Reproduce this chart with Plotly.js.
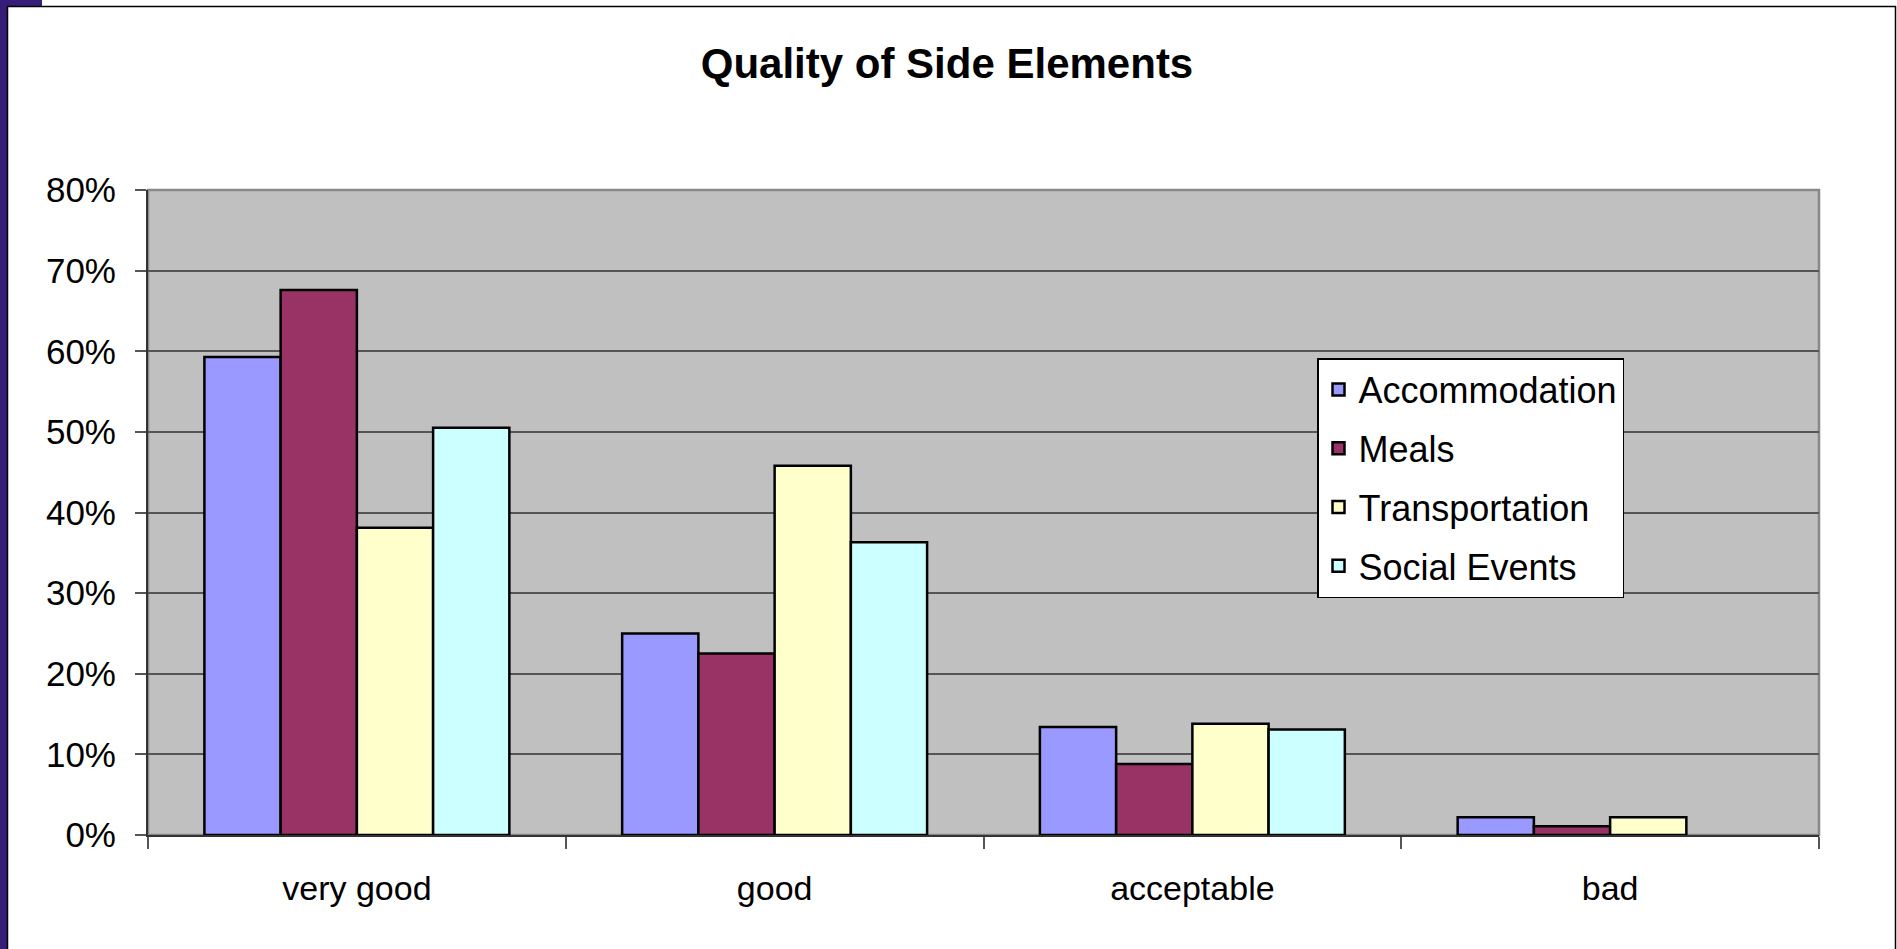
<!DOCTYPE html>
<html>
<head>
<meta charset="utf-8">
<script src="https://cdn.plot.ly/plotly-3.0.1.min.js"></script>
<style>
  html, body { margin: 0; padding: 0; background: #ffffff; }
  #chart { width: 1897px; height: 949px; }
</style>
</head>
<body>
<div id="chart"></div>
<script>
// ---- data ----
const categories = ['very good', 'good', 'acceptable', 'bad'];
const seriesNames = ['Accommodation', 'Meals', 'Transportation', 'Social Events'];
const accommodation = [0.593, 0.250, 0.134, 0.022];
const meals = [0.676, 0.225, 0.088, 0.011];
const transportation = [0.381, 0.458, 0.138, 0.022];
const socialEvents = [0.505, 0.363, 0.131, 0.0];
const yTickValues = [0, 0.1, 0.2, 0.3, 0.4, 0.5, 0.6, 0.7, 0.8];
const seriesColors = ['#9999FF', '#993366', '#FFFFCC', '#CCFFFF'];

// ---- layout geometry (pixels) ----
const W = 1897, H = 949;
const M = { l: 148, r: W - 1819, t: 190, b: H - 835 };
const PW = W - M.l - M.r, PH = H - M.t - M.b;
const px = x => (x - M.l) / PW;          // pixel x -> paper x
const py = y => (H - M.b - y) / PH;      // pixel y -> paper y

const FONT = 'Liberation Sans, Arial, sans-serif';
const allValues = [accommodation, meals, transportation, socialEvents];

const traces = allValues.map((vals, i) => ({
  type: 'bar',
  name: seriesNames[i],
  x: categories,
  y: vals,
  legendgroup: 'g' + i,
  marker: {
    color: seriesColors[i],
    // zero-height bars draw no outline (as in the reference)
    line: { color: '#000000', width: vals.map(v => (v > 0 ? 2.5 : 0)) }
  },
  hoverinfo: 'x+y+name'
}));

const layout = {
  width: W, height: H,
  margin: M,
  paper_bgcolor: '#ffffff',
  plot_bgcolor: '#C0C0C0',
  font: { family: FONT, color: '#000000', size: 34 },
  barmode: 'group',
  bargap: 0.27,
  bargroupgap: 0,
  title: {
    text: '<b>Quality of Side Elements</b>',
    font: { family: FONT, size: 42, color: '#000000' },
    xref: 'paper', x: px(947), xanchor: 'center',
    yref: 'container', y: 1 - 63 / H, yanchor: 'middle'
  },
  xaxis: {
    type: 'category',
    showgrid: false,
    showline: true, linecolor: '#333333', linewidth: 2,
    ticks: 'outside', ticklen: 12, tickcolor: '#555555', tickwidth: 1.5,
    tickson: 'boundaries',
    ticklabelstandoff: 22,
    tickfont: { family: FONT, size: 34, color: '#000000' },
    zeroline: false
  },
  yaxis: {
    range: [0, 0.8],
    tickvals: yTickValues,
    tickformat: '.0%',
    showgrid: true, gridcolor: '#555555', gridwidth: 1.5,
    showline: true, linecolor: '#333333', linewidth: 2,
    ticks: 'outside', ticklen: 11, tickcolor: '#555555', tickwidth: 1.5,
    ticklabelstandoff: 12,
    tickfont: { family: FONT, size: 35, color: '#000000' },
    zeroline: false
  },
  legend: {
    x: px(1317), y: py(358), xanchor: 'left', yanchor: 'top',
    bgcolor: '#ffffff', bordercolor: '#000000', borderwidth: 1.5,
    font: { family: FONT, size: 36, color: '#000000' },
    traceorder: 'grouped', tracegroupgap: 9
  },
  shapes: [
    // plot-area border (grey, top and right visible)
    { type: 'rect', xref: 'paper', yref: 'paper', x0: 0, x1: 1, y0: 0, y1: 1,
      line: { color: '#888888', width: 2.5 }, layer: 'below' },
    // purple slide edge on the left and top-left
    { type: 'rect', xref: 'paper', yref: 'paper', x0: px(0), x1: px(7), y0: py(0), y1: py(H),
      fillcolor: '#361E78', line: { width: 0 } },
    { type: 'rect', xref: 'paper', yref: 'paper', x0: px(0), x1: px(42), y0: py(0), y1: py(6),
      fillcolor: '#361E78', line: { width: 0 } },
    // thin black frame lines
    { type: 'line', xref: 'paper', yref: 'paper', x0: px(7.5), x1: px(7.5), y0: py(6), y1: py(H),
      line: { color: '#000000', width: 1.5 } },
    { type: 'line', xref: 'paper', yref: 'paper', x0: px(7), x1: px(1896), y0: py(6.5), y1: py(6.5),
      line: { color: '#000000', width: 1.5 } },
    { type: 'line', xref: 'paper', yref: 'paper', x0: px(1895.5), x1: px(1895.5), y0: py(6), y1: py(H),
      line: { color: '#000000', width: 1.5 } }
  ],
  showlegend: true
};

Plotly.newPlot('chart', traces, layout, { displayModeBar: false });
</script>
</body>
</html>
